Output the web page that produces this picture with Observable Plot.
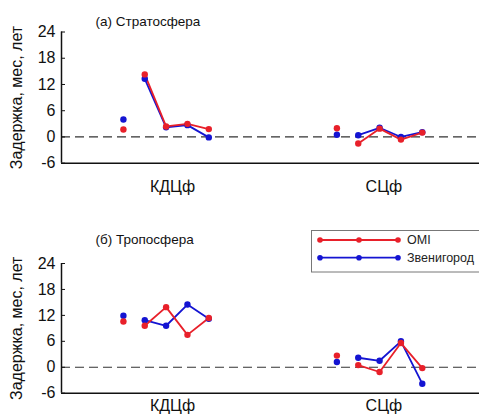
<!DOCTYPE html>
<html>
<head>
<meta charset="utf-8">
<script src="https://cdn.jsdelivr.net/npm/d3@7"></script>
<script src="https://cdn.jsdelivr.net/npm/@observablehq/plot@0.6"></script>
<style>
  html, body { margin: 0; padding: 0; background: #fff; }
  #wrap { position: relative; width: 479px; height: 414px; overflow: hidden; font-family: "Liberation Sans", Arial, sans-serif; }
  #wrap > div.panel { position: absolute; left: 0; }
  #legend { position: absolute; left: 311px; top: 230px; }
</style>
</head>
<body>
<div id="wrap"></div>
<script>
// ---- data ----
const groups = ["КДЦф", "СЦф"];
const groupTickPos = [2.3, 12.2];
const groupOffset = [0, 10];
const steps = [0, 1, 2, 3, 4];          // step 0 = standalone point, 1..4 = connected
const yTicks = [-6, 0, 6, 12, 18, 24];
const seriesNames = ["OMI", "Звенигород"];
const panelTitles = ["(а) Стратосфера", "(б) Тропосфера"];
const yLabel = "Задержка, мес, лет";

// Stratosphere
const stratOMI_KDC = [1.7, 14.3, 2.4, 3.0, 1.8];
const stratZv_KDC  = [4.0, 13.3, 2.2, 2.7, -0.1];
const stratOMI_SC  = [2.0, -1.5, 1.9, -0.6, 1.0];
const stratZv_SC   = [0.5, 0.4, 2.1, 0.0, 1.1];
// Troposphere
const tropOMI_KDC  = [10.6, 9.6, 13.9, 7.5, 11.4];
const tropZv_KDC   = [11.9, 10.9, 9.6, 14.5, 11.2];
const tropOMI_SC   = [2.7, 0.5, -1.1, 5.6, -0.2];
const tropZv_SC    = [1.2, 2.2, 1.5, 6.0, -3.8];

const colors = { "OMI": "#e8202a", "Звенигород": "#1414d2" };

function rows(series, g, vals) {
  return vals.map((v, i) => ({ series, group: groups[g], step: steps[i], x: groupOffset[g] + steps[i], y: v }));
}

const panels = [
  { title: panelTitles[0], data: [
      ...rows("Звенигород", 0, stratZv_KDC), ...rows("Звенигород", 1, stratZv_SC),
      ...rows("OMI", 0, stratOMI_KDC), ...rows("OMI", 1, stratOMI_SC)],
    top: 0, height: 207, marginTop: 31.5, marginBottom: 44.3, tickPad: 17, titleDy: -10 },
  { title: panelTitles[1], data: [
      ...rows("Звенигород", 0, tropZv_KDC), ...rows("Звенигород", 1, tropZv_SC),
      ...rows("OMI", 0, tropOMI_KDC), ...rows("OMI", 1, tropOMI_SC)],
    top: 207, height: 207, marginTop: 56, marginBottom: 21.3, tickPad: 6, titleDy: -24 }
];

const xDomain = [-2.9, 16.68];
const yDomain = [-6, 24];
const font = "'Liberation Sans', Arial, sans-serif";
const wrap = document.getElementById("wrap");

for (const p of panels) {
  const connected = p.data.filter(d => d.step > 0);
  const chart = Plot.plot({
    width: 479, height: p.height,
    marginLeft: 61, marginRight: 0, marginTop: p.marginTop, marginBottom: p.marginBottom,
    style: { fontFamily: font, fontSize: "16px", color: "#111", background: "#fff", overflow: "visible" },
    x: { domain: xDomain, axis: null },
    y: { domain: yDomain, axis: null },
    marks: [
      Plot.ruleY([0], { stroke: "#333", strokeWidth: 1.2, strokeDasharray: "9,5" }),
      Plot.ruleY([yDomain[0]], { stroke: "#111", strokeWidth: 1.5 }),
      Plot.ruleX([xDomain[0]], { y1: yDomain[0], y2: yDomain[1], stroke: "#111", strokeWidth: 1.5 }),
      Plot.axisY({ ticks: yTicks, tickSize: -4, tickPadding: 10, tickFormat: d => String(d), fontSize: 16, label: null }),
      Plot.axisX({ ticks: groupTickPos, tickSize: 0, tickPadding: p.tickPad, tickFormat: (d, i) => groups[i], fontSize: 16, label: null }),
      Plot.lineY(connected, { x: "x", y: "y", z: d => d.series + d.group, stroke: d => colors[d.series], strokeWidth: 1.8 }),
      Plot.dot(p.data, { x: "x", y: "y", r: 3.2, fill: d => colors[d.series], stroke: "none" }),
      Plot.text([p.title], { frameAnchor: "top-left", dx: 34, dy: p.titleDy, textAnchor: "start", lineAnchor: "middle", fontSize: 13.5 }),
      Plot.text([yLabel], { frameAnchor: "left", rotate: -90, dx: -45, textAnchor: "middle", lineAnchor: "middle", fontSize: 16 })
    ]
  });
  const holder = document.createElement("div");
  holder.className = "panel";
  holder.style.top = p.top + "px";
  holder.appendChild(chart);
  wrap.appendChild(holder);
}

// ---- legend (overlay) ----
const leg = d3.create("svg").attr("id", "legend").attr("width", 168).attr("height", 43)
  .style("font-family", font);
leg.append("rect").attr("x", 0.5).attr("y", 0.5).attr("width", 170).attr("height", 41.5)
  .attr("fill", "#fff").attr("stroke", "#777").attr("stroke-width", 1);
seriesNames.forEach((name, i) => {
  const g = leg.append("g").attr("transform", `translate(0,${10 + i * 17.7})`);
  g.append("line").attr("x1", 9).attr("x2", 87).attr("y1", 0).attr("y2", 0)
    .attr("stroke", colors[name]).attr("stroke-width", 1.8);
  [9, 48, 87].forEach(cx => g.append("circle").attr("cx", cx).attr("cy", 0).attr("r", 2.8).attr("fill", colors[name]));
  g.append("text").attr("x", 96).attr("y", 0).attr("dy", "0.35em").attr("font-size", 12.5).attr("fill", "#222").text(name);
});
wrap.appendChild(leg.node());
</script>
</body>
</html>
